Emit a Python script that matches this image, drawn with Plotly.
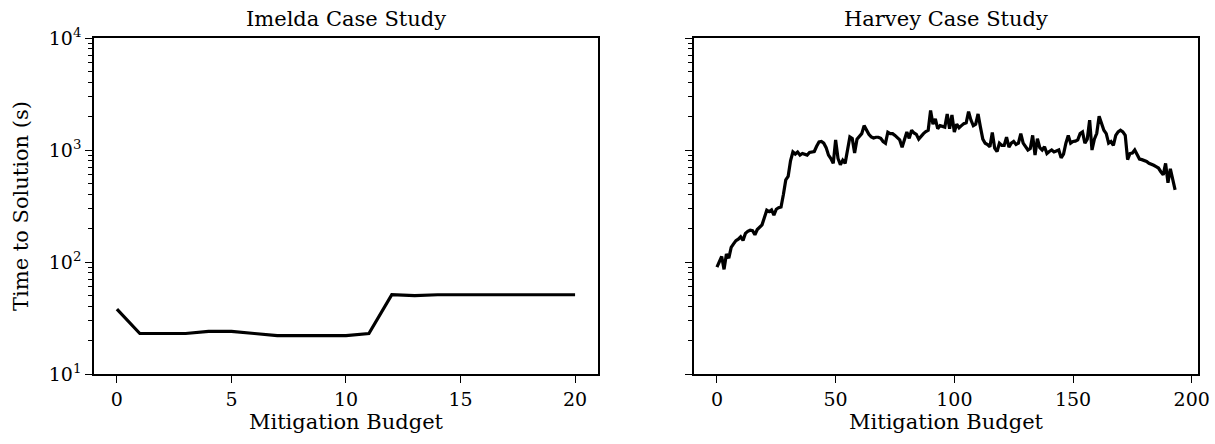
import plotly.graph_objects as go
from plotly.subplots import make_subplots

imelda_budget = list(range(0, 21))
imelda_time = [38, 23, 23, 23, 24, 24, 23, 22, 22, 22, 22, 23, 51, 50, 51, 51, 51, 51, 51, 51, 51]

harvey_budget = list(range(0, 194))
harvey_time = [
    90, 100, 112, 86, 118, 108, 135, 145, 155, 160,
    168, 156, 180, 188, 192, 190, 175, 195, 205, 215,
    250, 290, 282, 292, 262, 296, 305, 310, 400, 540,
    580, 800, 960, 920, 960, 900, 930, 910, 900, 950,
    960, 970, 1080, 1180, 1190, 1150, 1050, 900, 840, 760,
    1230, 840, 740, 810, 760, 1000, 1310, 1270, 940, 1250,
    1320, 1400, 1650, 1500, 1380, 1310, 1280, 1300, 1300, 1270,
    1190, 1150, 1440, 1400, 1400, 1350, 1300, 1230, 1060, 1270,
    1450, 1270, 1500, 1420, 1380, 1250, 1330, 1400, 1460, 1500,
    2250, 1700, 1900, 1550, 1650, 1620, 1600, 2100, 1550, 2050,
    1450, 1700, 1580, 1650, 1720, 1750, 2200, 1850, 1650, 1700,
    2100, 1600, 1250, 1150, 1120, 1070, 1430, 1040, 970, 1150,
    1100, 1100, 1300, 1060, 1150, 1190, 1120, 1150, 1400, 1150,
    1070, 1000, 1030, 1350, 900, 1260, 1050, 1000, 1070, 930,
    970, 1000, 960, 980, 1000, 850, 920, 1150, 1350, 1150,
    1190, 1200, 1230, 1400, 1450, 1150, 1250, 1850, 1000, 1250,
    1410, 2000, 1750, 1500, 1400, 1150, 1190, 1100, 1350, 1450,
    1500, 1450, 1350, 820, 930, 940, 1000, 920, 830, 820,
    810, 790, 760, 750, 730, 710, 690, 640, 600, 760,
    510, 680, 540, 440,
]

titles = ["Imelda Case Study", "Harvey Case Study"]
x_label = "Mitigation Budget"
y_label = "Time to Solution (s)"
y_tickvals = [10, 100, 1000, 10000]
y_ticktext = ["10<sup>1</sup>", "10<sup>2</sup>", "10<sup>3</sup>", "10<sup>4</sup>"]
imelda_xticks = [0, 5, 10, 15, 20]
harvey_xticks = [0, 50, 100, 150, 200]

minor_vals = [m * 10 ** k for k in range(1, 4) for m in range(2, 10)]

FONT = "DejaVu Serif"
TICK_FS = 19
LABEL_FS = 21

fig = make_subplots(rows=1, cols=2, horizontal_spacing=0.087)
fig.add_trace(go.Scatter(x=imelda_budget, y=imelda_time, mode="lines",
                         line=dict(color="black", width=3.2)), row=1, col=1)
fig.add_trace(go.Scatter(x=harvey_budget, y=harvey_time, mode="lines",
                         line=dict(color="black", width=3.2)), row=1, col=2)

axis_common = dict(showline=True, linecolor="black", linewidth=1.5, mirror=True,
                   ticks="outside", ticklen=7, tickwidth=1.3, tickcolor="black",
                   showgrid=False, zeroline=False, automargin=False,
                   tickfont=dict(family=FONT, size=TICK_FS, color="black"))

fig.update_xaxes(**axis_common)
fig.update_yaxes(**axis_common)
fig.update_xaxes(range=[-1, 21], tickvals=imelda_xticks, row=1, col=1,
                 title=dict(text=x_label, font=dict(family=FONT, size=LABEL_FS, color="black"), standoff=5))
fig.update_xaxes(range=[-9.65, 202.65], tickvals=harvey_xticks, row=1, col=2,
                 title=dict(text=x_label, font=dict(family=FONT, size=LABEL_FS, color="black"), standoff=5))
for c in (1, 2):
    fig.update_yaxes(type="log", range=[1, 4], tickvals=y_tickvals,
                     ticktext=y_ticktext if c == 1 else [""] * 4,
                     minor=dict(ticks="outside", ticklen=4, tickwidth=1, tickcolor="black",
                                tickvals=minor_vals, showgrid=False),
                     row=1, col=c)
fig.update_yaxes(title=dict(text=y_label, font=dict(family=FONT, size=LABEL_FS, color="black"), standoff=14),
                 row=1, col=1)

fig.update_layout(
    width=1215, height=444,
    margin=dict(l=94, r=17, t=38, b=70, autoexpand=False),
    plot_bgcolor="white", paper_bgcolor="white",
    showlegend=False,
    hovermode=False,
    font=dict(family=FONT, color="black"),
)
fig.layout.xaxis.domain = [0, 0.4565]
fig.layout.xaxis2.domain = [0.5435, 1]

for dom, t in zip([fig.layout.xaxis.domain, fig.layout.xaxis2.domain], titles):
    fig.add_annotation(text=t, x=(dom[0] + dom[1]) / 2, y=1, xref="paper", yref="paper",
                       xanchor="center", yanchor="bottom", yshift=5, showarrow=False,
                       font=dict(family=FONT, size=LABEL_FS, color="black"))

fig.write_html("out.html",
               config={"displayModeBar": False},
               post_script="document.body.style.margin='0';document.body.style.overflow='hidden';")
